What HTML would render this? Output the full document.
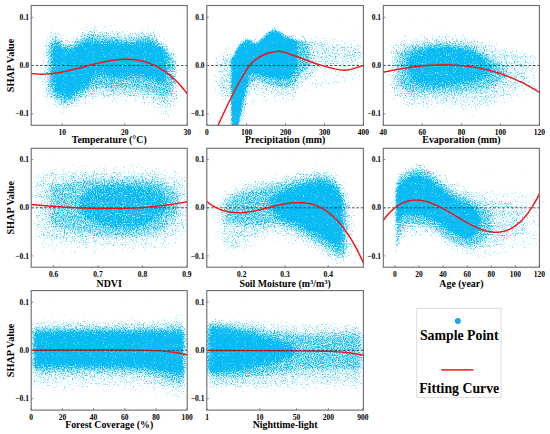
<!DOCTYPE html>
<html><head><meta charset="utf-8"><style>
html,body{margin:0;padding:0;background:#fff;overflow:hidden;}
svg{display:block;}
text{font-family:"Liberation Serif",serif;font-weight:bold;fill:#000;}
</style></head><body>
<svg width="550" height="434" viewBox="0 0 550 434">
<defs>
<filter id="sc0" x="0" y="0" width="1" height="1" color-interpolation-filters="sRGB">
<feGaussianBlur in="SourceGraphic" stdDeviation="2.0" result="b"/>
<feColorMatrix in="b" type="matrix" values="0 0 0 0 0  0 0 0 0 0  0 0 0 0 0  1 0 0 0 0" result="D"/>
<feTurbulence type="fractalNoise" baseFrequency="0.9" numOctaves="2" seed="7" result="T"/>
<feComposite in="D" in2="T" operator="arithmetic" k1="0" k2="1" k3="-1" k4="0.5" result="d"/>
<feComponentTransfer in="d" result="m"><feFuncA type="linear" slope="3" intercept="-1"/></feComponentTransfer>
<feFlood flood-color="#08bbf4"/>
<feComposite in2="m" operator="in"/>
<feGaussianBlur stdDeviation="0.45"/>
</filter>
<filter id="sc1" x="0" y="0" width="1" height="1" color-interpolation-filters="sRGB">
<feGaussianBlur in="SourceGraphic" stdDeviation="1.3" result="b"/>
<feColorMatrix in="b" type="matrix" values="0 0 0 0 0  0 0 0 0 0  0 0 0 0 0  1 0 0 0 0" result="D"/>
<feTurbulence type="fractalNoise" baseFrequency="0.9" numOctaves="2" seed="8" result="T"/>
<feComposite in="D" in2="T" operator="arithmetic" k1="0" k2="1" k3="-1" k4="0.5" result="d"/>
<feComponentTransfer in="d" result="m"><feFuncA type="linear" slope="3" intercept="-1"/></feComponentTransfer>
<feFlood flood-color="#08bbf4"/>
<feComposite in2="m" operator="in"/>
<feGaussianBlur stdDeviation="0.45"/>
</filter>
<filter id="sc2" x="0" y="0" width="1" height="1" color-interpolation-filters="sRGB">
<feGaussianBlur in="SourceGraphic" stdDeviation="2.4" result="b"/>
<feColorMatrix in="b" type="matrix" values="0 0 0 0 0  0 0 0 0 0  0 0 0 0 0  1 0 0 0 0" result="D"/>
<feTurbulence type="fractalNoise" baseFrequency="0.9" numOctaves="2" seed="9" result="T"/>
<feComposite in="D" in2="T" operator="arithmetic" k1="0" k2="1" k3="-1" k4="0.5" result="d"/>
<feComponentTransfer in="d" result="m"><feFuncA type="linear" slope="3" intercept="-1"/></feComponentTransfer>
<feFlood flood-color="#08bbf4"/>
<feComposite in2="m" operator="in"/>
<feGaussianBlur stdDeviation="0.45"/>
</filter>
<filter id="sc3" x="0" y="0" width="1" height="1" color-interpolation-filters="sRGB">
<feGaussianBlur in="SourceGraphic" stdDeviation="2.2" result="b"/>
<feColorMatrix in="b" type="matrix" values="0 0 0 0 0  0 0 0 0 0  0 0 0 0 0  1 0 0 0 0" result="D"/>
<feTurbulence type="fractalNoise" baseFrequency="0.9" numOctaves="2" seed="10" result="T"/>
<feComposite in="D" in2="T" operator="arithmetic" k1="0" k2="1" k3="-1" k4="0.5" result="d"/>
<feComponentTransfer in="d" result="m"><feFuncA type="linear" slope="3" intercept="-1"/></feComponentTransfer>
<feFlood flood-color="#08bbf4"/>
<feComposite in2="m" operator="in"/>
<feGaussianBlur stdDeviation="0.45"/>
</filter>
<filter id="sc4" x="0" y="0" width="1" height="1" color-interpolation-filters="sRGB">
<feGaussianBlur in="SourceGraphic" stdDeviation="2.5" result="b"/>
<feColorMatrix in="b" type="matrix" values="0 0 0 0 0  0 0 0 0 0  0 0 0 0 0  1 0 0 0 0" result="D"/>
<feTurbulence type="fractalNoise" baseFrequency="0.9" numOctaves="2" seed="11" result="T"/>
<feComposite in="D" in2="T" operator="arithmetic" k1="0" k2="1" k3="-1" k4="0.5" result="d"/>
<feComponentTransfer in="d" result="m"><feFuncA type="linear" slope="3" intercept="-1"/></feComponentTransfer>
<feFlood flood-color="#08bbf4"/>
<feComposite in2="m" operator="in"/>
<feGaussianBlur stdDeviation="0.45"/>
</filter>
<filter id="sc5" x="0" y="0" width="1" height="1" color-interpolation-filters="sRGB">
<feGaussianBlur in="SourceGraphic" stdDeviation="1.8" result="b"/>
<feColorMatrix in="b" type="matrix" values="0 0 0 0 0  0 0 0 0 0  0 0 0 0 0  1 0 0 0 0" result="D"/>
<feTurbulence type="fractalNoise" baseFrequency="0.9" numOctaves="2" seed="12" result="T"/>
<feComposite in="D" in2="T" operator="arithmetic" k1="0" k2="1" k3="-1" k4="0.5" result="d"/>
<feComponentTransfer in="d" result="m"><feFuncA type="linear" slope="3" intercept="-1"/></feComponentTransfer>
<feFlood flood-color="#08bbf4"/>
<feComposite in2="m" operator="in"/>
<feGaussianBlur stdDeviation="0.45"/>
</filter>
<filter id="sc6" x="0" y="0" width="1" height="1" color-interpolation-filters="sRGB">
<feGaussianBlur in="SourceGraphic" stdDeviation="2.0" result="b"/>
<feColorMatrix in="b" type="matrix" values="0 0 0 0 0  0 0 0 0 0  0 0 0 0 0  1 0 0 0 0" result="D"/>
<feTurbulence type="fractalNoise" baseFrequency="0.9" numOctaves="2" seed="13" result="T"/>
<feComposite in="D" in2="T" operator="arithmetic" k1="0" k2="1" k3="-1" k4="0.5" result="d"/>
<feComponentTransfer in="d" result="m"><feFuncA type="linear" slope="3" intercept="-1"/></feComponentTransfer>
<feFlood flood-color="#08bbf4"/>
<feComposite in2="m" operator="in"/>
<feGaussianBlur stdDeviation="0.45"/>
</filter>
<filter id="sc7" x="0" y="0" width="1" height="1" color-interpolation-filters="sRGB">
<feGaussianBlur in="SourceGraphic" stdDeviation="2.0" result="b"/>
<feColorMatrix in="b" type="matrix" values="0 0 0 0 0  0 0 0 0 0  0 0 0 0 0  1 0 0 0 0" result="D"/>
<feTurbulence type="fractalNoise" baseFrequency="0.9" numOctaves="2" seed="14" result="T"/>
<feComposite in="D" in2="T" operator="arithmetic" k1="0" k2="1" k3="-1" k4="0.5" result="d"/>
<feComponentTransfer in="d" result="m"><feFuncA type="linear" slope="3" intercept="-1"/></feComponentTransfer>
<feFlood flood-color="#08bbf4"/>
<feComposite in2="m" operator="in"/>
<feGaussianBlur stdDeviation="0.45"/>
</filter>

</defs>
<rect width="550" height="434" fill="#fff"/>

<clipPath id="cp0"><rect x="31.2" y="5.5" width="156" height="119.8"/></clipPath><g clip-path="url(#cp0)">
<g filter="url(#sc0)"><rect x="31.2" y="5.5" width="156" height="119.8" fill="#000"/><path d="M40 55C40.8 52.2 43.5 42.2 45 38C46.5 33.8 47.8 31.5 49 30C50.2 28.5 51 29.2 52 29C53 28.8 53.8 28.7 55 29C56.2 29.3 57.3 29.8 59 31C60.7 32.2 63 35.2 65 36C67 36.8 69.2 36.7 71 36C72.8 35.3 74.2 33.3 76 32C77.8 30.7 80 29.2 82 28C84 26.8 86.2 25.7 88 25C89.8 24.3 91 24.2 93 24C95 23.8 97.5 23.8 100 24C102.5 24.2 105.3 24.7 108 25C110.7 25.3 113.2 25.5 116 26C118.8 26.5 122 27.7 125 28C128 28.3 131.2 28.3 134 28C136.8 27.7 139.3 26.3 142 26C144.7 25.7 147.7 25.7 150 26C152.3 26.3 154.2 27 156 28C157.8 29 159.3 30.7 161 32C162.7 33.3 164.5 34.3 166 36C167.5 37.7 168.7 40 170 42C171.3 44 172.8 46 174 48C175.2 50 176 52 177 54C178 56 179.5 59 180 60L180 100C179.5 102 178 109 177 112C176 115 175.2 116.7 174 118C172.8 119.3 171.3 119.7 170 120C168.7 120.3 167.5 120.5 166 120C164.5 119.5 162.7 118.3 161 117C159.3 115.7 157.8 113.5 156 112C154.2 110.5 152.3 109 150 108C147.7 107 144.7 106.7 142 106C139.3 105.3 136.8 104.3 134 104C131.2 103.7 128 104 125 104C122 104 118.8 104 116 104C113.2 104 110.7 104 108 104C105.3 104 102.5 104 100 104C97.5 104 95 103.7 93 104C91 104.3 89.8 105.3 88 106C86.2 106.7 84 107.3 82 108C80 108.7 77.8 109.2 76 110C74.2 110.8 72.8 112.3 71 113C69.2 113.7 67 114 65 114C63 114 60.7 113.7 59 113C57.3 112.3 56.2 111.2 55 110C53.8 108.8 53 106.7 52 106C51 105.3 50.2 107 49 106C47.8 105 46.5 103.5 45 100C43.5 96.5 40.8 87.5 40 85Z" fill="#383838"/><path d="M45 48C45.7 46 47.8 38.3 49 36C50.2 33.7 51 34.5 52 34C53 33.5 53.8 32.7 55 33C56.2 33.3 57.3 34.5 59 36C60.7 37.5 63 41 65 42C67 43 69.2 42.7 71 42C72.8 41.3 74.2 39.3 76 38C77.8 36.7 80 35.2 82 34C84 32.8 86.2 31.7 88 31C89.8 30.3 91 30 93 30C95 30 97.5 30.7 100 31C102.5 31.3 105.3 31.8 108 32C110.7 32.2 113.2 31.7 116 32C118.8 32.3 122 33.7 125 34C128 34.3 131.2 34.3 134 34C136.8 33.7 139.3 32.3 142 32C144.7 31.7 147.7 31.5 150 32C152.3 32.5 154.2 33.7 156 35C157.8 36.3 159.3 38.5 161 40C162.7 41.5 164.5 42.3 166 44C167.5 45.7 168.7 48.2 170 50C171.3 51.8 172.8 53 174 55C175.2 57 176.5 60.8 177 62L177 96C176.5 97.3 175.2 102 174 104C172.8 106 171.3 107 170 108C168.7 109 167.5 110 166 110C164.5 110 162.7 109 161 108C159.3 107 157.8 105.3 156 104C154.2 102.7 152.3 101 150 100C147.7 99 144.7 98.5 142 98C139.3 97.5 136.8 97.2 134 97C131.2 96.8 128 97 125 97C122 97 118.8 97 116 97C113.2 97 110.7 97.2 108 97C105.3 96.8 102.5 96.2 100 96C97.5 95.8 95 95.7 93 96C91 96.3 89.8 97.2 88 98C86.2 98.8 84 100 82 101C80 102 77.8 103 76 104C74.2 105 72.8 106.3 71 107C69.2 107.7 67 108 65 108C63 108 60.7 107.7 59 107C57.3 106.3 56.2 105.2 55 104C53.8 102.8 53 100.7 52 100C51 99.3 50.2 101.3 49 100C47.8 98.7 45.7 93.3 45 92Z" fill="#585858"/><path d="M49 44C49.5 43.3 51 41.2 52 40C53 38.8 53.8 37 55 37C56.2 37 57.3 38.5 59 40C60.7 41.5 63 45 65 46C67 47 69.2 46.7 71 46C72.8 45.3 74.2 43.3 76 42C77.8 40.7 80 39.2 82 38C84 36.8 86.2 35.5 88 35C89.8 34.5 91 34.8 93 35C95 35.2 97.5 35.7 100 36C102.5 36.3 105.3 36.7 108 37C110.7 37.3 113.2 37.7 116 38C118.8 38.3 122 38.8 125 39C128 39.2 131.2 39.3 134 39C136.8 38.7 139.3 37.3 142 37C144.7 36.7 147.7 36.5 150 37C152.3 37.5 154.2 38.7 156 40C157.8 41.3 159.3 43.5 161 45C162.7 46.5 164.5 47.5 166 49C167.5 50.5 168.7 52.2 170 54C171.3 55.8 173.3 59 174 60L174 88C173.3 89 171.3 92.3 170 94C168.7 95.7 167.5 97.3 166 98C164.5 98.7 162.7 98.7 161 98C159.3 97.3 157.8 95 156 94C154.2 93 152.3 92.7 150 92C147.7 91.3 144.7 90.5 142 90C139.3 89.5 136.8 89.2 134 89C131.2 88.8 128 89 125 89C122 89 118.8 89 116 89C113.2 89 110.7 89.2 108 89C105.3 88.8 102.5 88.2 100 88C97.5 87.8 95 87.5 93 88C91 88.5 89.8 89.8 88 91C86.2 92.2 84 93.8 82 95C80 96.2 77.8 96.8 76 98C74.2 99.2 72.8 101.2 71 102C69.2 102.8 67 103.2 65 103C63 102.8 60.7 102 59 101C57.3 100 56.2 98.2 55 97C53.8 95.8 53 94.8 52 94C51 93.2 49.5 92.3 49 92Z" fill="#888888"/><path d="M52 52C52.5 50.8 53.8 46.2 55 45C56.2 43.8 57.3 44.2 59 45C60.7 45.8 63 49.2 65 50C67 50.8 69.2 50.7 71 50C72.8 49.3 74.2 47 76 46C77.8 45 80 44.7 82 44C84 43.3 86.2 42.3 88 42C89.8 41.7 91 41.8 93 42C95 42.2 97.5 42.8 100 43C102.5 43.2 105.3 43.2 108 43C110.7 42.8 113.2 41.8 116 42C118.8 42.2 122 43.7 125 44C128 44.3 131.2 44.3 134 44C136.8 43.7 139.3 42.3 142 42C144.7 41.7 147.7 41.5 150 42C152.3 42.5 154.2 44 156 45C157.8 46 159.3 46.8 161 48C162.7 49.2 165.2 51.3 166 52L166 80C165.2 80.3 162.7 82 161 82C159.3 82 157.8 80.7 156 80C154.2 79.3 152.3 78.7 150 78C147.7 77.3 144.7 76.3 142 76C139.3 75.7 136.8 75.8 134 76C131.2 76.2 128 76.8 125 77C122 77.2 118.8 77.2 116 77C113.2 76.8 110.7 76.2 108 76C105.3 75.8 102.5 75.7 100 76C97.5 76.3 95 76.5 93 78C91 79.5 89.8 83.2 88 85C86.2 86.8 84 87.8 82 89C80 90.2 77.8 90.8 76 92C74.2 93.2 72.8 95.2 71 96C69.2 96.8 67 97.3 65 97C63 96.7 60.7 95.3 59 94C57.3 92.7 56.2 91.3 55 89C53.8 86.7 52.5 81.5 52 80Z" fill="#cccccc"/></g>
<line x1="31.2" y1="65.5" x2="187.2" y2="65.5" stroke="#333" stroke-width="0.85" stroke-dasharray="2.6 1.8"/>
<path d="M30.2 73.3 31.2 73.4 32.2 73.6 33.2 73.7 34.2 73.8 35.2 73.9 36.2 74 37.2 74 38.2 74.1 39.2 74.1 40.2 74.2 41.2 74.2 42.2 74.2 43.2 74.2 44.2 74.1 45.2 74.1 46.2 74.1 47.2 74 48.2 73.9 49.2 73.8 50.2 73.8 51.2 73.7 52.2 73.5 53.2 73.4 54.2 73.3 55.2 73.2 56.2 73 57.2 72.9 58.2 72.7 59.2 72.5 60.2 72.4 61.2 72.2 62.2 72 63.2 71.8 64.2 71.6 65.2 71.4 66.2 71.2 67.2 70.9 68.2 70.7 69.2 70.5 70.2 70.2 71.2 70 72.2 69.8 73.2 69.5 74.2 69.3 75.2 69 76.2 68.8 77.2 68.5 78.2 68.3 79.2 68 80.2 67.7 81.2 67.5 82.2 67.2 83.2 66.9 84.2 66.7 85.2 66.4 86.2 66.2 87.2 65.9 88.2 65.6 89.2 65.4 90.2 65.1 91.2 64.8 92.2 64.6 93.2 64.3 94.2 64.1 95.2 63.8 96.2 63.6 97.2 63.4 98.2 63.1 99.2 62.9 100.2 62.7 101.2 62.4 102.2 62.2 103.2 62 104.2 61.8 105.2 61.6 106.2 61.4 107.2 61.2 108.2 61 109.2 60.9 110.2 60.7 111.2 60.5 112.2 60.4 113.2 60.2 114.2 60.1 115.2 60 116.2 59.9 117.2 59.8 118.2 59.7 119.2 59.6 120.2 59.5 121.2 59.4 122.2 59.4 123.2 59.3 124.2 59.3 125.2 59.3 126.2 59.3 127.2 59.3 128.2 59.3 129.2 59.3 130.2 59.4 131.2 59.4 132.2 59.5 133.2 59.6 134.2 59.7 135.2 59.8 136.2 60 137.2 60.1 138.2 60.3 139.2 60.4 140.2 60.6 141.2 60.9 142.2 61.1 143.2 61.3 144.2 61.6 145.2 61.9 146.2 62.2 147.2 62.5 148.2 62.8 149.2 63.2 150.2 63.6 151.2 63.9 152.2 64.4 153.2 64.8 154.2 65.2 155.2 65.7 156.2 66.2 157.2 66.7 158.2 67.3 159.2 67.8 160.2 68.4 161.2 69 162.2 69.7 163.2 70.3 164.2 71 165.2 71.7 166.2 72.4 167.2 73.2 168.2 73.9 169.2 74.7 170.2 75.5 171.2 76.4 172.2 77.3 173.2 78.2 174.2 79.1 175.2 80 176.2 81 177.2 82 178.2 83.1 179.2 84.1 180.2 85.2 181.2 86.3 182.2 87.5 183.2 88.7 184.2 89.9 185.2 91.1 186.2 92.4 187.2 93.7 188.2 95" fill="none" stroke="#f51010" stroke-width="1.45"/>
</g>
<rect x="31.2" y="5.5" width="156" height="119.8" fill="none" stroke="#6b6b6b" stroke-width="1.1"/>
<line x1="31.2" y1="113.8" x2="33.2" y2="113.8" stroke="#6b6b6b" stroke-width="0.8"/>
<text x="28.9" y="116.3" font-size="7.5" text-anchor="end">−0.1</text>
<line x1="31.2" y1="65.5" x2="33.2" y2="65.5" stroke="#6b6b6b" stroke-width="0.8"/>
<text x="28.9" y="68.1" font-size="7.5" text-anchor="end">0.0</text>
<line x1="31.2" y1="17.3" x2="33.2" y2="17.3" stroke="#6b6b6b" stroke-width="0.8"/>
<text x="28.9" y="19.9" font-size="7.5" text-anchor="end">0.1</text>
<line x1="62.3" y1="125.3" x2="62.3" y2="123.3" stroke="#6b6b6b" stroke-width="0.8"/>
<text x="62.3" y="134.8" font-size="7.5" text-anchor="middle">10</text>
<line x1="124.7" y1="125.3" x2="124.7" y2="123.3" stroke="#6b6b6b" stroke-width="0.8"/>
<text x="124.7" y="134.8" font-size="7.5" text-anchor="middle">20</text>
<line x1="187.2" y1="125.3" x2="187.2" y2="123.3" stroke="#6b6b6b" stroke-width="0.8"/>
<text x="187.2" y="134.8" font-size="7.5" text-anchor="middle">30</text>
<text x="109.2" y="142.6" font-size="9.9" text-anchor="middle">Temperature (°C)</text>
<clipPath id="cp1"><rect x="206.8" y="5.5" width="156.6" height="119.8"/></clipPath><g clip-path="url(#cp1)">
<g filter="url(#sc1)"><rect x="206.8" y="5.5" width="156.6" height="119.8" fill="#000"/><path d="M214 55C214.8 54.2 217.3 51.2 219 50C220.7 48.8 222.3 48.7 224 48C225.7 47.3 227.8 45.3 229 46C230.2 46.7 230.7 51.3 231.5 52C232.3 52.7 233.1 51.5 234 50C234.9 48.5 236 44.8 237 43C238 41.2 239 40.2 240 39C241 37.8 242 36.7 243 36C244 35.3 245 35.3 246 35C247 34.7 247.5 33.5 249 34C250.5 34.5 252.8 38.2 255 38C257.2 37.8 259.5 35 262 33C264.5 31 267.5 27.3 270 26C272.5 24.7 274.7 24.3 277 25C279.3 25.7 281.7 28.7 284 30C286.3 31.3 288.8 32.2 291 33C293.2 33.8 295 35 297 35C299 35 300.8 33 303 33C305.2 33 307.5 34.5 310 35C312.5 35.5 315.3 35.7 318 36C320.7 36.3 322.3 36.7 326 37C329.7 37.3 334 37.8 340 38C346 38.2 358.3 38 362 38L362 82C358.3 82.3 346 83.3 340 84C334 84.7 329.7 85 326 86C322.3 87 320.7 89 318 90C315.3 91 312.5 91 310 92C307.5 93 305.2 94.7 303 96C300.8 97.3 299 98.7 297 100C295 101.3 293.2 103.3 291 104C288.8 104.7 286.3 104 284 104C281.7 104 279.3 104.2 277 104C274.7 103.8 272.5 103.3 270 103C267.5 102.7 264.5 101.8 262 102C259.5 102.2 257.2 103 255 104C252.8 105 250.5 106 249 108C247.5 110 247 113.3 246 116C245 118.7 244 122.3 243 124C242 125.7 241 125.7 240 126C239 126.3 238 126 237 126C236 126 234.9 126 234 126C233.1 126 232.3 129.7 231.5 126C230.7 122.3 230.2 108 229 104C227.8 100 225.7 102.7 224 102C222.3 101.3 220.7 101.2 219 100C217.3 98.8 214.8 95.8 214 95Z" fill="#383838"/><path d="M219 60C219.8 59.3 222.3 57 224 56C225.7 55 227.8 54.2 229 54C230.2 53.8 230.7 55.2 231.5 55C232.3 54.8 233.1 54.5 234 53C234.9 51.5 236 47.8 237 46C238 44.2 239 43.2 240 42C241 40.8 242 39.7 243 39C244 38.3 245 38.3 246 38C247 37.7 247.5 36.5 249 37C250.5 37.5 252.8 41.2 255 41C257.2 40.8 259.5 38 262 36C264.5 34 267.5 30.3 270 29C272.5 27.7 274.7 27.3 277 28C279.3 28.7 281.7 31.7 284 33C286.3 34.3 288.8 35.2 291 36C293.2 36.8 295 38 297 38C299 38 300.8 35.8 303 36C305.2 36.2 307.5 38.2 310 39C312.5 39.8 315.3 40.2 318 41C320.7 41.8 322.3 43.3 326 44C329.7 44.7 334 44.7 340 45C346 45.3 358.3 45.8 362 46L362 62C358.3 62.3 346 63.3 340 64C334 64.7 329.7 65 326 66C322.3 67 320.7 68.3 318 70C315.3 71.7 312.5 73.7 310 76C307.5 78.3 305.2 81.7 303 84C300.8 86.3 299 88.3 297 90C295 91.7 293.2 93.2 291 94C288.8 94.8 286.3 95 284 95C281.7 95 279.3 94.5 277 94C274.7 93.5 272.5 92.7 270 92C267.5 91.3 264.5 90.3 262 90C259.5 89.7 257.2 89 255 90C252.8 91 250.5 93.3 249 96C247.5 98.7 247 102.3 246 106C245 109.7 244 115 243 118C242 121 241 122.7 240 124C239 125.3 238 125.7 237 126C236 126.3 234.9 126 234 126C233.1 126 232.3 130.3 231.5 126C230.7 121.7 230.2 105 229 100C227.8 95 225.7 97.7 224 96C222.3 94.3 219.8 91 219 90Z" fill="#585858"/><path d="M231.5 57C231.9 56.7 233.1 56.5 234 55C234.9 53.5 236 49.8 237 48C238 46.2 239 45.2 240 44C241 42.8 242 41.7 243 41C244 40.3 245 40.3 246 40C247 39.7 247.5 38.5 249 39C250.5 39.5 252.8 43.2 255 43C257.2 42.8 259.5 40 262 38C264.5 36 267.5 32.3 270 31C272.5 29.7 274.7 29.3 277 30C279.3 30.7 281.7 33.7 284 35C286.3 36.3 288.8 37.2 291 38C293.2 38.8 295 39.5 297 40C299 40.5 300.8 40 303 41C305.2 42 308.8 45.2 310 46L310 66C308.8 67 305.2 69.7 303 72C300.8 74.3 299 77.7 297 80C295 82.3 293.2 84.7 291 86C288.8 87.3 286.3 88 284 88C281.7 88 279.3 86.7 277 86C274.7 85.3 272.5 84.7 270 84C267.5 83.3 264.5 82.7 262 82C259.5 81.3 257.2 79.3 255 80C252.8 80.7 250.5 83.3 249 86C247.5 88.7 247 92.3 246 96C245 99.7 244 104 243 108C242 112 241 117 240 120C239 123 238 125 237 126C236 127 234.9 126 234 126C233.1 126 231.9 126 231.5 126Z" fill="#8c8c8c"/><path d="M231.5 59C231.9 58.7 233.1 58.5 234 57C234.9 55.5 236 51.8 237 50C238 48.2 239 47.2 240 46C241 44.8 242 43.7 243 43C244 42.3 245 42.3 246 42C247 41.7 247.5 40.5 249 41C250.5 41.5 252.8 45.2 255 45C257.2 44.8 259.5 42 262 40C264.5 38 267.5 34.3 270 33C272.5 31.7 274.7 31.3 277 32C279.3 32.7 281.7 35.7 284 37C286.3 38.3 288.8 39.2 291 40C293.2 40.8 296 41.7 297 42L297 66C296 67.7 293.2 74 291 76C288.8 78 286.3 77.7 284 78C281.7 78.3 279.3 78.2 277 78C274.7 77.8 272.5 77.5 270 77C267.5 76.5 264.5 75.7 262 75C259.5 74.3 257.2 73 255 73C252.8 73 250.5 72.8 249 75C247.5 77.2 247 82.2 246 86C245 89.8 244 93.7 243 98C242 102.3 241 107.3 240 112C239 116.7 238 123.7 237 126C236 128.3 234.9 126 234 126C233.1 126 231.9 126 231.5 126Z" fill="#d8d8d8"/></g>
<line x1="206.8" y1="65.5" x2="363.4" y2="65.5" stroke="#333" stroke-width="0.85" stroke-dasharray="2.6 1.8"/>
<path d="M218.1 125.1C220.3 120.5 227.3 105.3 231.2 97.5C235.1 89.7 238.1 84.1 241.4 78.5C244.7 72.9 247.2 67.9 250.8 64C254.4 60.1 259.2 57 263.2 55C267.2 53 271.2 52.1 274.8 51.7C278.4 51.3 277.7 50.4 285 52.5C292.3 54.6 308.7 61.4 318.5 64.4C328.3 67.4 336.5 70.1 344 70.3C351.5 70.5 360.2 66.2 363.5 65.4" fill="none" stroke="#f51010" stroke-width="1.45"/>
</g>
<rect x="206.8" y="5.5" width="156.6" height="119.8" fill="none" stroke="#6b6b6b" stroke-width="1.1"/>
<line x1="206.8" y1="113.8" x2="208.8" y2="113.8" stroke="#6b6b6b" stroke-width="0.8"/>
<text x="204.5" y="116.3" font-size="7.5" text-anchor="end">−0.1</text>
<line x1="206.8" y1="65.5" x2="208.8" y2="65.5" stroke="#6b6b6b" stroke-width="0.8"/>
<text x="204.5" y="68.1" font-size="7.5" text-anchor="end">0.0</text>
<line x1="206.8" y1="17.3" x2="208.8" y2="17.3" stroke="#6b6b6b" stroke-width="0.8"/>
<text x="204.5" y="19.9" font-size="7.5" text-anchor="end">0.1</text>
<line x1="206.8" y1="125.3" x2="206.8" y2="123.3" stroke="#6b6b6b" stroke-width="0.8"/>
<text x="206.8" y="134.8" font-size="7.5" text-anchor="middle">0</text>
<line x1="246.5" y1="125.3" x2="246.5" y2="123.3" stroke="#6b6b6b" stroke-width="0.8"/>
<text x="246.5" y="134.8" font-size="7.5" text-anchor="middle">100</text>
<line x1="285.5" y1="125.3" x2="285.5" y2="123.3" stroke="#6b6b6b" stroke-width="0.8"/>
<text x="285.5" y="134.8" font-size="7.5" text-anchor="middle">200</text>
<line x1="324.5" y1="125.3" x2="324.5" y2="123.3" stroke="#6b6b6b" stroke-width="0.8"/>
<text x="324.5" y="134.8" font-size="7.5" text-anchor="middle">300</text>
<line x1="363.4" y1="125.3" x2="363.4" y2="123.3" stroke="#6b6b6b" stroke-width="0.8"/>
<text x="363.4" y="134.8" font-size="7.5" text-anchor="middle">400</text>
<text x="285.1" y="142.6" font-size="9.9" text-anchor="middle">Precipitation (mm)</text>
<clipPath id="cp2"><rect x="383.3" y="5.5" width="156.1" height="119.8"/></clipPath><g clip-path="url(#cp2)">
<g filter="url(#sc2)"><rect x="383.3" y="5.5" width="156.1" height="119.8" fill="#000"/><path d="M386 49C387 47.8 390 43.7 392 42C394 40.3 396 39.8 398 39C400 38.2 402.3 37.5 404 37C405.7 36.5 406.7 36.2 408 36C409.3 35.8 410.3 36.2 412 36C413.7 35.8 415.7 35.3 418 35C420.3 34.7 423 34.3 426 34C429 33.7 432.3 33.2 436 33C439.7 32.8 444 32.8 448 33C452 33.2 456.3 33.7 460 34C463.7 34.3 467 34.5 470 35C473 35.5 475.5 36.3 478 37C480.5 37.7 483 38.3 485 39C487 39.7 488.7 40.5 490 41C491.3 41.5 491.7 41.7 493 42C494.3 42.3 496.3 42.5 498 43C499.7 43.5 501.7 44.5 503 45C504.3 45.5 504.5 45.7 506 46C507.5 46.3 509.7 46.5 512 47C514.3 47.5 517 48.5 520 49C523 49.5 527 49.5 530 50C533 50.5 536.7 51.7 538 52L538 92C536.7 92.7 533 94.7 530 96C527 97.3 523 98.7 520 100C517 101.3 514.3 103.2 512 104C509.7 104.8 507.5 104.7 506 105C504.5 105.3 504.3 105.3 503 106C501.7 106.7 499.7 108.2 498 109C496.3 109.8 494.3 110.5 493 111C491.7 111.5 491.3 111.5 490 112C488.7 112.5 487 113.7 485 114C483 114.3 480.5 114.2 478 114C475.5 113.8 473 113.3 470 113C467 112.7 463.7 112.2 460 112C456.3 111.8 452 112 448 112C444 112 439.7 112 436 112C432.3 112 429 112.2 426 112C423 111.8 420.3 111.3 418 111C415.7 110.7 413.7 110.2 412 110C410.3 109.8 409.3 110.3 408 110C406.7 109.7 405.7 108.7 404 108C402.3 107.3 400 107.2 398 106C396 104.8 394 103.5 392 101C390 98.5 387 92.7 386 91Z" fill="#383838"/><path d="M392 48C393 47.2 396 44.2 398 43C400 41.8 402.3 41.5 404 41C405.7 40.5 406.7 40.2 408 40C409.3 39.8 410.3 40.2 412 40C413.7 39.8 415.7 39.3 418 39C420.3 38.7 423 38.3 426 38C429 37.7 432.3 37.2 436 37C439.7 36.8 444 36.8 448 37C452 37.2 456.3 37.5 460 38C463.7 38.5 467 39.3 470 40C473 40.7 475.5 41.5 478 42C480.5 42.5 483 42.5 485 43C487 43.5 488.7 44.5 490 45C491.3 45.5 491.7 45.7 493 46C494.3 46.3 496.3 46.5 498 47C499.7 47.5 501.7 48.5 503 49C504.3 49.5 504.5 49.7 506 50C507.5 50.3 509.7 50.5 512 51C514.3 51.5 517 52 520 53C523 54 528.3 56.3 530 57L530 83C528.3 84 523 87.3 520 89C517 90.7 514.3 92 512 93C509.7 94 507.5 94.3 506 95C504.5 95.7 504.3 96.2 503 97C501.7 97.8 499.7 99.2 498 100C496.3 100.8 494.3 101.5 493 102C491.7 102.5 491.3 102.5 490 103C488.7 103.5 487 104.7 485 105C483 105.3 480.5 105.2 478 105C475.5 104.8 473 104.3 470 104C467 103.7 463.7 103.2 460 103C456.3 102.8 452 103 448 103C444 103 439.7 103 436 103C432.3 103 429 103 426 103C423 103 420.3 103 418 103C415.7 103 413.7 103 412 103C410.3 103 409.3 103.3 408 103C406.7 102.7 405.7 102 404 101C402.3 100 400 98.5 398 97C396 95.5 393 92.8 392 92Z" fill="#585858"/><path d="M398 56C399 55 402.3 51.3 404 50C405.7 48.7 406.7 48.5 408 48C409.3 47.5 410.3 47.3 412 47C413.7 46.7 415.7 46.3 418 46C420.3 45.7 423 45.3 426 45C429 44.7 432.3 44.2 436 44C439.7 43.8 444 43.8 448 44C452 44.2 456.3 44.5 460 45C463.7 45.5 467 46.2 470 47C473 47.8 475.5 48.8 478 50C480.5 51.2 483 52.7 485 54C487 55.3 488.7 57 490 58C491.3 59 491.7 59.2 493 60C494.3 60.8 496.3 61.7 498 63C499.7 64.3 501.7 67 503 68C504.3 69 505.5 68.8 506 69L506 77C505.5 77.2 504.3 77 503 78C501.7 79 499.7 81.7 498 83C496.3 84.3 494.3 85.2 493 86C491.7 86.8 491.3 87.5 490 88C488.7 88.5 487 88.7 485 89C483 89.3 480.5 89.7 478 90C475.5 90.3 473 90.7 470 91C467 91.3 463.7 91.7 460 92C456.3 92.3 452 92.8 448 93C444 93.2 439.7 93 436 93C432.3 93 429 93 426 93C423 93 420.3 93 418 93C415.7 93 413.7 93.2 412 93C410.3 92.8 409.3 92.5 408 92C406.7 91.5 405.7 91.3 404 90C402.3 88.7 399 85 398 84Z" fill="#888888"/><path d="M408 62C408.7 60.7 410.3 55.8 412 54C413.7 52.2 415.7 51.8 418 51C420.3 50.2 423 49.7 426 49C429 48.3 432.3 47.3 436 47C439.7 46.7 444 46.8 448 47C452 47.2 456.3 47.5 460 48C463.7 48.5 467 49 470 50C473 51 475.5 52.5 478 54C480.5 55.5 483 57 485 59C487 61 488.7 64.3 490 66C491.3 67.7 492.5 68.5 493 69L493 71C492.5 71.3 491.3 72 490 73C488.7 74 487 76 485 77C483 78 480.5 78.3 478 79C475.5 79.7 473 80.3 470 81C467 81.7 463.7 82.3 460 83C456.3 83.7 452 84.5 448 85C444 85.5 439.7 86 436 86C432.3 86 429 85.5 426 85C423 84.5 420.3 84 418 83C415.7 82 413.7 81 412 79C410.3 77 408.7 72.3 408 71Z" fill="#c0c0c0"/></g>
<line x1="383.3" y1="65.5" x2="539.4" y2="65.5" stroke="#333" stroke-width="0.85" stroke-dasharray="2.6 1.8"/>
<path d="M382.3 72.5 383.3 72.2 384.3 72 385.3 71.8 386.3 71.6 387.3 71.4 388.3 71.2 389.3 71 390.3 70.8 391.3 70.6 392.3 70.4 393.3 70.2 394.3 70 395.3 69.8 396.3 69.6 397.3 69.4 398.3 69.2 399.3 69.1 400.3 68.9 401.3 68.7 402.3 68.5 403.3 68.4 404.3 68.2 405.3 68.1 406.3 67.9 407.3 67.7 408.3 67.6 409.3 67.5 410.3 67.3 411.3 67.2 412.3 67 413.3 66.9 414.3 66.8 415.3 66.7 416.3 66.5 417.3 66.4 418.3 66.3 419.3 66.2 420.3 66.1 421.3 66 422.3 65.9 423.3 65.8 424.3 65.7 425.3 65.6 426.3 65.5 427.3 65.5 428.3 65.4 429.3 65.3 430.3 65.3 431.3 65.2 432.3 65.1 433.3 65.1 434.3 65.1 435.3 65 436.3 65 437.3 64.9 438.3 64.9 439.3 64.9 440.3 64.9 441.3 64.9 442.3 64.8 443.3 64.8 444.3 64.8 445.3 64.8 446.3 64.8 447.3 64.9 448.3 64.9 449.3 64.9 450.3 64.9 451.3 65 452.3 65 453.3 65.1 454.3 65.1 455.3 65.2 456.3 65.2 457.3 65.3 458.3 65.4 459.3 65.4 460.3 65.5 461.3 65.6 462.3 65.7 463.3 65.8 464.3 65.9 465.3 66 466.3 66.1 467.3 66.2 468.3 66.4 469.3 66.5 470.3 66.6 471.3 66.8 472.3 66.9 473.3 67.1 474.3 67.2 475.3 67.4 476.3 67.6 477.3 67.8 478.3 67.9 479.3 68.1 480.3 68.3 481.3 68.5 482.3 68.7 483.3 69 484.3 69.2 485.3 69.4 486.3 69.6 487.3 69.9 488.3 70.1 489.3 70.4 490.3 70.6 491.3 70.9 492.3 71.2 493.3 71.5 494.3 71.8 495.3 72.1 496.3 72.4 497.3 72.7 498.3 73 499.3 73.3 500.3 73.6 501.3 74 502.3 74.3 503.3 74.7 504.3 75 505.3 75.4 506.3 75.8 507.3 76.1 508.3 76.5 509.3 76.9 510.3 77.3 511.3 77.7 512.3 78.1 513.3 78.6 514.3 79 515.3 79.4 516.3 79.9 517.3 80.3 518.3 80.8 519.3 81.3 520.3 81.7 521.3 82.2 522.3 82.7 523.3 83.2 524.3 83.7 525.3 84.2 526.3 84.7 527.3 85.3 528.3 85.8 529.3 86.4 530.3 86.9 531.3 87.5 532.3 88.1 533.3 88.6 534.3 89.2 535.3 89.8 536.3 90.4 537.3 91 538.3 91.7 539.3 92.3 540.3 92.9" fill="none" stroke="#f51010" stroke-width="1.45"/>
</g>
<rect x="383.3" y="5.5" width="156.1" height="119.8" fill="none" stroke="#6b6b6b" stroke-width="1.1"/>
<line x1="383.3" y1="113.8" x2="385.3" y2="113.8" stroke="#6b6b6b" stroke-width="0.8"/>
<text x="381" y="116.3" font-size="7.5" text-anchor="end">−0.1</text>
<line x1="383.3" y1="65.5" x2="385.3" y2="65.5" stroke="#6b6b6b" stroke-width="0.8"/>
<text x="381" y="68.1" font-size="7.5" text-anchor="end">0.0</text>
<line x1="383.3" y1="17.3" x2="385.3" y2="17.3" stroke="#6b6b6b" stroke-width="0.8"/>
<text x="381" y="19.9" font-size="7.5" text-anchor="end">0.1</text>
<line x1="383.3" y1="125.3" x2="383.3" y2="123.3" stroke="#6b6b6b" stroke-width="0.8"/>
<text x="383.3" y="134.8" font-size="7.5" text-anchor="middle">40</text>
<line x1="422.3" y1="125.3" x2="422.3" y2="123.3" stroke="#6b6b6b" stroke-width="0.8"/>
<text x="422.3" y="134.8" font-size="7.5" text-anchor="middle">60</text>
<line x1="461.4" y1="125.3" x2="461.4" y2="123.3" stroke="#6b6b6b" stroke-width="0.8"/>
<text x="461.4" y="134.8" font-size="7.5" text-anchor="middle">80</text>
<line x1="500.4" y1="125.3" x2="500.4" y2="123.3" stroke="#6b6b6b" stroke-width="0.8"/>
<text x="500.4" y="134.8" font-size="7.5" text-anchor="middle">100</text>
<line x1="539.4" y1="125.3" x2="539.4" y2="123.3" stroke="#6b6b6b" stroke-width="0.8"/>
<text x="539.4" y="134.8" font-size="7.5" text-anchor="middle">120</text>
<text x="461.4" y="142.6" font-size="9.9" text-anchor="middle">Evaporation (mm)</text>
<clipPath id="cp3"><rect x="31.2" y="148.3" width="156" height="118.9"/></clipPath><g clip-path="url(#cp3)">
<g filter="url(#sc3)"><rect x="31.2" y="148.3" width="156" height="118.9" fill="#000"/><path d="M34 172C35.3 171.3 39.3 169 42 168C44.7 167 47.3 166.5 50 166C52.7 165.5 55 165.2 58 165C61 164.8 65.2 165 68 165C70.8 165 73 165 75 165C77 165 78.3 165.2 80 165C81.7 164.8 83 164.2 85 164C87 163.8 89.5 164 92 164C94.5 164 97 164 100 164C103 164 106.7 164 110 164C113.3 164 116.7 164 120 164C123.3 164 126.7 164 130 164C133.3 164 136.7 164 140 164C143.3 164 147 163.8 150 164C153 164.2 155.7 164.7 158 165C160.3 165.3 162.5 165.7 164 166C165.5 166.3 165.7 166.7 167 167C168.3 167.3 170.2 167.5 172 168C173.8 168.5 176.5 169.7 178 170C179.5 170.3 179.7 169.7 181 170C182.3 170.3 185.2 171.7 186 172L186 244C185.2 244.3 182.3 245.5 181 246C179.7 246.5 179.5 246.7 178 247C176.5 247.3 173.8 247.5 172 248C170.2 248.5 168.3 249.3 167 250C165.7 250.7 165.5 251.5 164 252C162.5 252.5 160.3 252.7 158 253C155.7 253.3 153 253.7 150 254C147 254.3 143.3 254.8 140 255C136.7 255.2 133.3 255 130 255C126.7 255 123.3 255 120 255C116.7 255 113.3 255 110 255C106.7 255 103 255 100 255C97 255 94.5 255 92 255C89.5 255 87 255 85 255C83 255 81.7 255 80 255C78.3 255 77 255 75 255C73 255 70.8 255.2 68 255C65.2 254.8 61 254.5 58 254C55 253.5 52.7 253 50 252C47.3 251 44.7 250 42 248C39.3 246 35.3 241.3 34 240Z" fill="#363636"/><path d="M34 180C35.3 179.3 39.3 177 42 176C44.7 175 47.3 174.5 50 174C52.7 173.5 55 173.3 58 173C61 172.7 65.2 172.2 68 172C70.8 171.8 73 172 75 172C77 172 78.3 172 80 172C81.7 172 83 172 85 172C87 172 89.5 172 92 172C94.5 172 97 172 100 172C103 172 106.7 172 110 172C113.3 172 116.7 172 120 172C123.3 172 126.7 172 130 172C133.3 172 136.7 172 140 172C143.3 172 147 171.8 150 172C153 172.2 155.7 172.7 158 173C160.3 173.3 162.5 173.7 164 174C165.5 174.3 165.7 174.5 167 175C168.3 175.5 170.2 176.3 172 177C173.8 177.7 176.5 178.5 178 179C179.5 179.5 179.7 179.2 181 180C182.3 180.8 185.2 183.3 186 184L186 226C185.2 227 182.3 230.8 181 232C179.7 233.2 179.5 232.3 178 233C176.5 233.7 173.8 235 172 236C170.2 237 168.3 238.2 167 239C165.7 239.8 165.5 240.5 164 241C162.5 241.5 160.3 241.7 158 242C155.7 242.3 153 242.7 150 243C147 243.3 143.3 243.8 140 244C136.7 244.2 133.3 244 130 244C126.7 244 123.3 244 120 244C116.7 244 113.3 244 110 244C106.7 244 103 244 100 244C97 244 94.5 244 92 244C89.5 244 87 244.2 85 244C83 243.8 81.7 243.2 80 243C78.3 242.8 77 243 75 243C73 243 70.8 243.2 68 243C65.2 242.8 61 242.5 58 242C55 241.5 52.7 241 50 240C47.3 239 44.7 238 42 236C39.3 234 35.3 229.3 34 228Z" fill="#565656"/><path d="M50 186C51.3 185.7 55 184.7 58 184C61 183.3 65.2 182.5 68 182C70.8 181.5 73 181.2 75 181C77 180.8 78.3 181.2 80 181C81.7 180.8 83 180.3 85 180C87 179.7 89.5 179.2 92 179C94.5 178.8 97 179 100 179C103 179 106.7 179 110 179C113.3 179 116.7 179 120 179C123.3 179 126.7 179 130 179C133.3 179 136.7 178.8 140 179C143.3 179.2 147 179.7 150 180C153 180.3 155.7 180.5 158 181C160.3 181.5 162.5 182.3 164 183C165.5 183.7 165.7 184.2 167 185C168.3 185.8 170.2 186.8 172 188C173.8 189.2 177 191.3 178 192L178 214C177 215 173.8 218 172 220C170.2 222 168.3 224.5 167 226C165.7 227.5 165.5 228 164 229C162.5 230 160.3 231.2 158 232C155.7 232.8 153 233.5 150 234C147 234.5 143.3 234.7 140 235C136.7 235.3 133.3 235.8 130 236C126.7 236.2 123.3 236 120 236C116.7 236 113.3 236.2 110 236C106.7 235.8 103 235.3 100 235C97 234.7 94.5 234.3 92 234C89.5 233.7 87 233.3 85 233C83 232.7 81.7 232.2 80 232C78.3 231.8 77 232.3 75 232C73 231.7 70.8 230.7 68 230C65.2 229.3 61 229 58 228C55 227 51.3 224.7 50 224Z" fill="#828282"/><path d="M80 200C80.8 198.8 83 194.8 85 193C87 191.2 89.5 190 92 189C94.5 188 97 187.5 100 187C103 186.5 106.7 186.2 110 186C113.3 185.8 116.7 186 120 186C123.3 186 126.7 185.8 130 186C133.3 186.2 136.7 186.7 140 187C143.3 187.3 147 187.5 150 188C153 188.5 155.7 188.8 158 190C160.3 191.2 162.5 193.3 164 195C165.5 196.7 166.5 199.2 167 200L167 208C166.5 208.8 165.5 211.3 164 213C162.5 214.7 160.3 216.5 158 218C155.7 219.5 153 220.7 150 222C147 223.3 143.3 225 140 226C136.7 227 133.3 227.7 130 228C126.7 228.3 123.3 228.2 120 228C116.7 227.8 113.3 227.7 110 227C106.7 226.3 103 225.2 100 224C97 222.8 94.5 221.3 92 220C89.5 218.7 87 217.3 85 216C83 214.7 80.8 212.7 80 212Z" fill="#b0b0b0"/></g>
<line x1="31.2" y1="207.8" x2="187.2" y2="207.8" stroke="#333" stroke-width="0.85" stroke-dasharray="2.6 1.8"/>
<path d="M30.2 204.5 31.2 204.5 32.2 204.6 33.2 204.7 34.2 204.8 35.2 204.9 36.2 205 37.2 205 38.2 205.1 39.2 205.2 40.2 205.3 41.2 205.4 42.2 205.5 43.2 205.5 44.2 205.6 45.2 205.7 46.2 205.8 47.2 205.8 48.2 205.9 49.2 206 50.2 206.1 51.2 206.1 52.2 206.2 53.2 206.3 54.2 206.4 55.2 206.4 56.2 206.5 57.2 206.6 58.2 206.6 59.2 206.7 60.2 206.8 61.2 206.8 62.2 206.9 63.2 207 64.2 207 65.2 207.1 66.2 207.2 67.2 207.2 68.2 207.3 69.2 207.3 70.2 207.4 71.2 207.4 72.2 207.5 73.2 207.5 74.2 207.6 75.2 207.6 76.2 207.7 77.2 207.7 78.2 207.8 79.2 207.8 80.2 207.9 81.2 207.9 82.2 208 83.2 208 84.2 208 85.2 208.1 86.2 208.1 87.2 208.2 88.2 208.2 89.2 208.2 90.2 208.3 91.2 208.3 92.2 208.3 93.2 208.3 94.2 208.4 95.2 208.4 96.2 208.4 97.2 208.4 98.2 208.4 99.2 208.5 100.2 208.5 101.2 208.5 102.2 208.5 103.2 208.5 104.2 208.5 105.2 208.5 106.2 208.5 107.2 208.5 108.2 208.5 109.2 208.5 110.2 208.5 111.2 208.5 112.2 208.5 113.2 208.5 114.2 208.5 115.2 208.5 116.2 208.5 117.2 208.5 118.2 208.5 119.2 208.4 120.2 208.4 121.2 208.4 122.2 208.4 123.2 208.4 124.2 208.3 125.2 208.3 126.2 208.3 127.2 208.2 128.2 208.2 129.2 208.1 130.2 208.1 131.2 208.1 132.2 208 133.2 208 134.2 207.9 135.2 207.9 136.2 207.8 137.2 207.8 138.2 207.7 139.2 207.6 140.2 207.6 141.2 207.5 142.2 207.4 143.2 207.4 144.2 207.3 145.2 207.2 146.2 207.2 147.2 207.1 148.2 207 149.2 206.9 150.2 206.8 151.2 206.7 152.2 206.6 153.2 206.5 154.2 206.4 155.2 206.3 156.2 206.2 157.2 206.1 158.2 206 159.2 205.9 160.2 205.8 161.2 205.7 162.2 205.6 163.2 205.4 164.2 205.3 165.2 205.2 166.2 205.1 167.2 204.9 168.2 204.8 169.2 204.7 170.2 204.5 171.2 204.4 172.2 204.2 173.2 204.1 174.2 203.9 175.2 203.8 176.2 203.6 177.2 203.5 178.2 203.3 179.2 203.1 180.2 203 181.2 202.8 182.2 202.6 183.2 202.4 184.2 202.3 185.2 202.1 186.2 201.9 187.2 201.7 188.2 201.5" fill="none" stroke="#f51010" stroke-width="1.45"/>
</g>
<rect x="31.2" y="148.3" width="156" height="118.9" fill="none" stroke="#6b6b6b" stroke-width="1.1"/>
<line x1="31.2" y1="255.9" x2="33.2" y2="255.9" stroke="#6b6b6b" stroke-width="0.8"/>
<text x="28.9" y="258.6" font-size="7.5" text-anchor="end">−0.1</text>
<line x1="31.2" y1="207.8" x2="33.2" y2="207.8" stroke="#6b6b6b" stroke-width="0.8"/>
<text x="28.9" y="210.3" font-size="7.5" text-anchor="end">0.0</text>
<line x1="31.2" y1="159.6" x2="33.2" y2="159.6" stroke="#6b6b6b" stroke-width="0.8"/>
<text x="28.9" y="162.2" font-size="7.5" text-anchor="end">0.1</text>
<line x1="53.6" y1="267.2" x2="53.6" y2="265.2" stroke="#6b6b6b" stroke-width="0.8"/>
<text x="53.6" y="276.7" font-size="7.5" text-anchor="middle">0.6</text>
<line x1="98" y1="267.2" x2="98" y2="265.2" stroke="#6b6b6b" stroke-width="0.8"/>
<text x="98" y="276.7" font-size="7.5" text-anchor="middle">0.7</text>
<line x1="142.5" y1="267.2" x2="142.5" y2="265.2" stroke="#6b6b6b" stroke-width="0.8"/>
<text x="142.5" y="276.7" font-size="7.5" text-anchor="middle">0.8</text>
<line x1="186.9" y1="267.2" x2="186.9" y2="265.2" stroke="#6b6b6b" stroke-width="0.8"/>
<text x="186.9" y="276.7" font-size="7.5" text-anchor="middle">0.9</text>
<text x="109.2" y="286.5" font-size="9.9" text-anchor="middle">NDVI</text>
<clipPath id="cp4"><rect x="206.8" y="148.3" width="156.6" height="118.9"/></clipPath><g clip-path="url(#cp4)">
<g filter="url(#sc4)"><rect x="206.8" y="148.3" width="156.6" height="118.9" fill="#000"/><path d="M214 198C215 197 218 193.7 220 192C222 190.3 223.8 189.3 226 188C228.2 186.7 230.5 185.2 233 184C235.5 182.8 238.3 181.8 241 181C243.7 180.2 246.3 179.7 249 179C251.7 178.3 254.2 177.7 257 177C259.8 176.3 263.8 175.5 266 175C268.2 174.5 268.3 174.3 270 174C271.7 173.7 274 173.3 276 173C278 172.7 279.3 172.5 282 172C284.7 171.5 288.7 170.7 292 170C295.3 169.3 298.7 168.7 302 168C305.3 167.3 308.7 166.5 312 166C315.3 165.5 319 164.8 322 165C325 165.2 327.5 166 330 167C332.5 168 335 169.5 337 171C339 172.5 340.5 174 342 176C343.5 178 344.7 180.3 346 183C347.3 185.7 348.3 189.2 350 192C351.7 194.8 355 198.7 356 200L356 245C355 247.5 351.7 256.8 350 260C348.3 263.2 347.3 263 346 264C344.7 265 343.5 265.7 342 266C340.5 266.3 339 266.5 337 266C335 265.5 332.5 264.5 330 263C327.5 261.5 325 259 322 257C319 255 315.3 252.7 312 251C308.7 249.3 305.3 248 302 247C298.7 246 295.3 245.5 292 245C288.7 244.5 284.7 244.3 282 244C279.3 243.7 278 243.2 276 243C274 242.8 271.7 242.8 270 243C268.3 243.2 268.2 243.5 266 244C263.8 244.5 259.8 245 257 246C254.2 247 251.7 248.7 249 250C246.3 251.3 243.7 253 241 254C238.3 255 235.5 256 233 256C230.5 256 228.2 255.8 226 254C223.8 252.2 222 249.8 220 245C218 240.2 215 228.3 214 225Z" fill="#383838"/><path d="M220 200C221 199 223.8 195.7 226 194C228.2 192.3 230.5 191.2 233 190C235.5 188.8 238.3 187.8 241 187C243.7 186.2 246.3 185.7 249 185C251.7 184.3 254.2 183.7 257 183C259.8 182.3 263.8 181.5 266 181C268.2 180.5 268.3 180.3 270 180C271.7 179.7 274 179.3 276 179C278 178.7 279.3 178.7 282 178C284.7 177.3 288.7 175.8 292 175C295.3 174.2 298.7 173.7 302 173C305.3 172.3 308.7 171.5 312 171C315.3 170.5 319 169.8 322 170C325 170.2 327.5 170.8 330 172C332.5 173.2 335 175.2 337 177C339 178.8 340.5 180.5 342 183C343.5 185.5 344.7 188.3 346 192C347.3 195.7 349.3 202.8 350 205L350 250C349.3 251.3 347.3 256 346 258C344.7 260 343.5 261.3 342 262C340.5 262.7 339 262.7 337 262C335 261.3 332.5 259.7 330 258C327.5 256.3 325 254 322 252C319 250 315.3 247.8 312 246C308.7 244.2 305.3 242.5 302 241C298.7 239.5 295.3 238.2 292 237C288.7 235.8 284.7 234.8 282 234C279.3 233.2 278 232.3 276 232C274 231.7 271.7 231.8 270 232C268.3 232.2 268.2 232.3 266 233C263.8 233.7 259.8 234.8 257 236C254.2 237.2 251.7 238.7 249 240C246.3 241.3 243.7 242.7 241 244C238.3 245.3 235.5 247.7 233 248C230.5 248.3 228.2 248.7 226 246C223.8 243.3 221 234.3 220 232Z" fill="#585858"/><path d="M226 202C227.2 201.2 230.5 198.5 233 197C235.5 195.5 238.3 194 241 193C243.7 192 246.3 191.7 249 191C251.7 190.3 254.2 189.7 257 189C259.8 188.3 263.8 187.5 266 187C268.2 186.5 268.3 186.3 270 186C271.7 185.7 274 185.3 276 185C278 184.7 279.3 184.7 282 184C284.7 183.3 288.7 181.8 292 181C295.3 180.2 298.7 179.7 302 179C305.3 178.3 308.7 177.5 312 177C315.3 176.5 319 175.8 322 176C325 176.2 327.5 176.7 330 178C332.5 179.3 335 181.7 337 184C339 186.3 340.5 188.5 342 192C343.5 195.5 345.3 202.8 346 205L346 250C345.3 251 343.5 255.2 342 256C340.5 256.8 339 255.8 337 255C335 254.2 332.5 252.7 330 251C327.5 249.3 325 247 322 245C319 243 315.3 240.8 312 239C308.7 237.2 305.3 235.7 302 234C298.7 232.3 295.3 230.3 292 229C288.7 227.7 284.7 226.8 282 226C279.3 225.2 278 224.3 276 224C274 223.7 271.7 223.8 270 224C268.3 224.2 268.2 224.8 266 225C263.8 225.2 259.8 225 257 225C254.2 225 251.7 225 249 225C246.3 225 243.7 225.2 241 225C238.3 224.8 235.5 224.5 233 224C230.5 223.5 227.2 222.3 226 222Z" fill="#888888"/><path d="M270 201C271 200 274 196.5 276 195C278 193.5 279.3 193.2 282 192C284.7 190.8 288.7 189.2 292 188C295.3 186.8 298.7 185.8 302 185C305.3 184.2 308.7 183.5 312 183C315.3 182.5 319 181.8 322 182C325 182.2 327.5 182.7 330 184C332.5 185.3 335 187.3 337 190C339 192.7 341.2 198.3 342 200L342 246C341.2 246.2 339 247.7 337 247C335 246.3 332.5 243.7 330 242C327.5 240.3 325 238.7 322 237C319 235.3 315.3 233.7 312 232C308.7 230.3 305.3 228.7 302 227C298.7 225.3 295.3 223.3 292 222C288.7 220.7 284.7 220.3 282 219C279.3 217.7 278 216 276 214C274 212 271 208.2 270 207Z" fill="#cccccc"/></g>
<line x1="206.8" y1="207.8" x2="363.4" y2="207.8" stroke="#333" stroke-width="0.85" stroke-dasharray="2.6 1.8"/>
<path d="M205.8 200.7 206.8 201.5 207.8 202.3 208.8 203.1 209.8 203.8 210.8 204.5 211.8 205.1 212.8 205.8 213.8 206.3 214.8 206.9 215.8 207.4 216.8 207.9 217.8 208.4 218.8 208.8 219.8 209.3 220.8 209.7 221.8 210 222.8 210.4 223.8 210.7 224.8 211 225.8 211.2 226.8 211.5 227.8 211.7 228.8 211.9 229.8 212 230.8 212.2 231.8 212.3 232.8 212.4 233.8 212.5 234.8 212.6 235.8 212.6 236.8 212.7 237.8 212.7 238.8 212.7 239.8 212.7 240.8 212.6 241.8 212.6 242.8 212.5 243.8 212.4 244.8 212.4 245.8 212.3 246.8 212.1 247.8 212 248.8 211.9 249.8 211.7 250.8 211.6 251.8 211.4 252.8 211.2 253.8 211 254.8 210.8 255.8 210.6 256.8 210.4 257.8 210.2 258.8 210 259.8 209.7 260.8 209.5 261.8 209.3 262.8 209 263.8 208.8 264.8 208.5 265.8 208.3 266.8 208 267.8 207.8 268.8 207.5 269.8 207.3 270.8 207 271.8 206.8 272.8 206.5 273.8 206.3 274.8 206 275.8 205.8 276.8 205.6 277.8 205.3 278.8 205.1 279.8 204.9 280.8 204.7 281.8 204.5 282.8 204.3 283.8 204.1 284.8 203.9 285.8 203.7 286.8 203.6 287.8 203.4 288.8 203.3 289.8 203.2 290.8 203 291.8 202.9 292.8 202.8 293.8 202.8 294.8 202.7 295.8 202.6 296.8 202.6 297.8 202.6 298.8 202.6 299.8 202.6 300.8 202.6 301.8 202.7 302.8 202.7 303.8 202.8 304.8 202.9 305.8 203.1 306.8 203.2 307.8 203.4 308.8 203.6 309.8 203.8 310.8 204 311.8 204.3 312.8 204.6 313.8 204.9 314.8 205.2 315.8 205.6 316.8 206 317.8 206.4 318.8 206.8 319.8 207.3 320.8 207.8 321.8 208.3 322.8 208.8 323.8 209.4 324.8 210 325.8 210.7 326.8 211.4 327.8 212.1 328.8 212.8 329.8 213.6 330.8 214.4 331.8 215.3 332.8 216.1 333.8 217.1 334.8 218 335.8 219 336.8 220 337.8 221.1 338.8 222.2 339.8 223.4 340.8 224.5 341.8 225.8 342.8 227 343.8 228.3 344.8 229.7 345.8 231.1 346.8 232.5 347.8 234 348.8 235.5 349.8 237.1 350.8 238.7 351.8 240.3 352.8 242 353.8 243.8 354.8 245.6 355.8 247.4 356.8 249.3 357.8 251.2 358.8 253.2 359.8 255.3 360.8 257.4 361.8 259.5 362.8 261.7 363.8 264" fill="none" stroke="#f51010" stroke-width="1.45"/>
</g>
<rect x="206.8" y="148.3" width="156.6" height="118.9" fill="none" stroke="#6b6b6b" stroke-width="1.1"/>
<line x1="206.8" y1="255.9" x2="208.8" y2="255.9" stroke="#6b6b6b" stroke-width="0.8"/>
<text x="204.5" y="258.6" font-size="7.5" text-anchor="end">−0.1</text>
<line x1="206.8" y1="207.8" x2="208.8" y2="207.8" stroke="#6b6b6b" stroke-width="0.8"/>
<text x="204.5" y="210.3" font-size="7.5" text-anchor="end">0.0</text>
<line x1="206.8" y1="159.6" x2="208.8" y2="159.6" stroke="#6b6b6b" stroke-width="0.8"/>
<text x="204.5" y="162.2" font-size="7.5" text-anchor="end">0.1</text>
<line x1="241.8" y1="267.2" x2="241.8" y2="265.2" stroke="#6b6b6b" stroke-width="0.8"/>
<text x="241.8" y="276.7" font-size="7.5" text-anchor="middle">0.2</text>
<line x1="285" y1="267.2" x2="285" y2="265.2" stroke="#6b6b6b" stroke-width="0.8"/>
<text x="285" y="276.7" font-size="7.5" text-anchor="middle">0.3</text>
<line x1="328.2" y1="267.2" x2="328.2" y2="265.2" stroke="#6b6b6b" stroke-width="0.8"/>
<text x="328.2" y="276.7" font-size="7.5" text-anchor="middle">0.4</text>
<text x="285.1" y="286.5" font-size="9.9" text-anchor="middle">Soil Moisture (m<tspan dy="-3" font-size="6.5">3</tspan><tspan dy="3">/m</tspan><tspan dy="-3" font-size="6.5">3</tspan><tspan dy="3">)</tspan></text>
<clipPath id="cp5"><rect x="383.3" y="148.3" width="156.1" height="118.9"/></clipPath><g clip-path="url(#cp5)">
<g filter="url(#sc5)"><rect x="383.3" y="148.3" width="156.1" height="118.9" fill="#000"/><path d="M395.5 178C395.9 177 396.9 173.7 398 172C399.1 170.3 400.3 169.3 402 168C403.7 166.7 405.8 165 408 164C410.2 163 412.7 162.3 415 162C417.3 161.7 419.5 161.5 422 162C424.5 162.5 427.3 163.7 430 165C432.7 166.3 435.3 168.3 438 170C440.7 171.7 443.3 173.3 446 175C448.7 176.7 451.3 178.5 454 180C456.7 181.5 459.5 182.8 462 184C464.5 185.2 466.8 186.2 469 187C471.2 187.8 473.2 188.5 475 189C476.8 189.5 478.2 189.8 480 190C481.8 190.2 484 190 486 190C488 190 489.7 190 492 190C494.3 190 496.7 190 500 190C503.3 190 507.8 189.7 512 190C516.2 190.3 520.7 191.3 525 192C529.3 192.7 535.8 193.7 538 194L538 246C535.8 246.7 529.3 249 525 250C520.7 251 516.2 251.2 512 252C507.8 252.8 503.3 254.2 500 255C496.7 255.8 494.3 256.5 492 257C489.7 257.5 488 257.8 486 258C484 258.2 481.8 258 480 258C478.2 258 476.8 258.2 475 258C473.2 257.8 471.2 257.5 469 257C466.8 256.5 464.5 255.8 462 255C459.5 254.2 456.7 253.2 454 252C451.3 250.8 448.7 249.3 446 248C443.3 246.7 440.7 245.3 438 244C435.3 242.7 432.7 241 430 240C427.3 239 424.5 238.3 422 238C419.5 237.7 417.3 237.7 415 238C412.7 238.3 410.2 239 408 240C405.8 241 403.7 241.7 402 244C400.3 246.3 399.1 252.3 398 254C396.9 255.7 395.9 254 395.5 254Z" fill="#383838"/><path d="M395.5 182C395.9 181 396.9 177.7 398 176C399.1 174.3 400.3 173.3 402 172C403.7 170.7 405.8 169 408 168C410.2 167 412.7 166.3 415 166C417.3 165.7 419.5 165.5 422 166C424.5 166.5 427.3 167.5 430 169C432.7 170.5 435.3 173 438 175C440.7 177 443.3 179.2 446 181C448.7 182.8 451.3 184.5 454 186C456.7 187.5 459.5 188.8 462 190C464.5 191.2 466.8 192.2 469 193C471.2 193.8 473.2 194.5 475 195C476.8 195.5 478.2 195.5 480 196C481.8 196.5 484 197.3 486 198C488 198.7 489.7 199.5 492 200C494.3 200.5 496.7 200.5 500 201C503.3 201.5 507.8 202 512 203C516.2 204 522.8 206.3 525 207L525 232C522.8 233 516.2 236 512 238C507.8 240 503.3 242.7 500 244C496.7 245.3 494.3 245.3 492 246C489.7 246.7 488 247.3 486 248C484 248.7 481.8 249.5 480 250C478.2 250.5 476.8 250.8 475 251C473.2 251.2 471.2 251.2 469 251C466.8 250.8 464.5 250.7 462 250C459.5 249.3 456.7 248.3 454 247C451.3 245.7 448.7 243.8 446 242C443.3 240.2 440.7 237.7 438 236C435.3 234.3 432.7 233 430 232C427.3 231 424.5 230.3 422 230C419.5 229.7 417.3 229.7 415 230C412.7 230.3 410.2 231 408 232C405.8 233 403.7 233 402 236C400.3 239 399.1 247.3 398 250C396.9 252.7 395.9 251.7 395.5 252Z" fill="#585858"/><path d="M395.5 186C395.9 185 396.9 181.7 398 180C399.1 178.3 400.3 177.3 402 176C403.7 174.7 405.8 173 408 172C410.2 171 412.7 170.3 415 170C417.3 169.7 419.5 169.5 422 170C424.5 170.5 427.3 171.3 430 173C432.7 174.7 435.3 177.8 438 180C440.7 182.2 443.3 184 446 186C448.7 188 451.3 190.3 454 192C456.7 193.7 459.5 194.8 462 196C464.5 197.2 466.8 198 469 199C471.2 200 473.2 201 475 202C476.8 203 478.2 203.8 480 205C481.8 206.2 484 207.5 486 209C488 210.5 491 213.2 492 214L492 232C491 233 488 236.3 486 238C484 239.7 481.8 240.8 480 242C478.2 243.2 476.8 244.3 475 245C473.2 245.7 471.2 246 469 246C466.8 246 464.5 245.7 462 245C459.5 244.3 456.7 243.3 454 242C451.3 240.7 448.7 238.8 446 237C443.3 235.2 440.7 232.7 438 231C435.3 229.3 432.7 228 430 227C427.3 226 424.5 225.5 422 225C419.5 224.5 417.3 224.2 415 224C412.7 223.8 410.2 223.3 408 224C405.8 224.7 403.7 224.7 402 228C400.3 231.3 399.1 241 398 244C396.9 247 395.9 245.7 395.5 246Z" fill="#888888"/><path d="M395.5 190C395.9 189.3 396.9 187.3 398 186C399.1 184.7 400.3 183.3 402 182C403.7 180.7 405.8 179 408 178C410.2 177 412.7 176.2 415 176C417.3 175.8 419.5 176.3 422 177C424.5 177.7 427.3 178.3 430 180C432.7 181.7 435.3 184.8 438 187C440.7 189.2 443.3 191 446 193C448.7 195 451.3 197.5 454 199C456.7 200.5 459.5 201 462 202C464.5 203 466.8 203.7 469 205C471.2 206.3 473.2 208.2 475 210C476.8 211.8 479.2 215 480 216L480 228C479.2 229 476.8 232.3 475 234C473.2 235.7 471.2 237.5 469 238C466.8 238.5 464.5 237.8 462 237C459.5 236.2 456.7 234.5 454 233C451.3 231.5 448.7 229.8 446 228C443.3 226.2 440.7 223.7 438 222C435.3 220.3 432.7 219 430 218C427.3 217 424.5 216.5 422 216C419.5 215.5 417.3 215.2 415 215C412.7 214.8 410.2 214.8 408 215C405.8 215.2 403.7 214.8 402 216C400.3 217.2 399.1 221 398 222C396.9 223 395.9 222 395.5 222Z" fill="#cccccc"/></g>
<line x1="383.3" y1="207.8" x2="539.4" y2="207.8" stroke="#333" stroke-width="0.85" stroke-dasharray="2.6 1.8"/>
<path d="M382.3 221.8 383.3 220.4 384.3 219 385.3 217.7 386.3 216.5 387.3 215.3 388.3 214.1 389.3 213 390.3 212 391.3 211 392.3 210.1 393.3 209.2 394.3 208.3 395.3 207.5 396.3 206.8 397.3 206.1 398.3 205.4 399.3 204.8 400.3 204.2 401.3 203.7 402.3 203.2 403.3 202.7 404.3 202.3 405.3 201.9 406.3 201.6 407.3 201.3 408.3 201 409.3 200.8 410.3 200.6 411.3 200.4 412.3 200.3 413.3 200.2 414.3 200.1 415.3 200.1 416.3 200.1 417.3 200.1 418.3 200.2 419.3 200.2 420.3 200.4 421.3 200.5 422.3 200.7 423.3 200.8 424.3 201.1 425.3 201.3 426.3 201.6 427.3 201.8 428.3 202.1 429.3 202.5 430.3 202.8 431.3 203.2 432.3 203.6 433.3 204 434.3 204.4 435.3 204.8 436.3 205.3 437.3 205.7 438.3 206.2 439.3 206.7 440.3 207.2 441.3 207.7 442.3 208.2 443.3 208.8 444.3 209.3 445.3 209.9 446.3 210.4 447.3 211 448.3 211.6 449.3 212.2 450.3 212.7 451.3 213.3 452.3 213.9 453.3 214.5 454.3 215.1 455.3 215.7 456.3 216.3 457.3 216.9 458.3 217.5 459.3 218.1 460.3 218.7 461.3 219.3 462.3 219.9 463.3 220.5 464.3 221.1 465.3 221.6 466.3 222.2 467.3 222.8 468.3 223.3 469.3 223.9 470.3 224.4 471.3 224.9 472.3 225.4 473.3 225.9 474.3 226.4 475.3 226.9 476.3 227.3 477.3 227.8 478.3 228.2 479.3 228.6 480.3 229 481.3 229.4 482.3 229.7 483.3 230 484.3 230.4 485.3 230.6 486.3 230.9 487.3 231.2 488.3 231.4 489.3 231.6 490.3 231.8 491.3 231.9 492.3 232 493.3 232.1 494.3 232.2 495.3 232.2 496.3 232.2 497.3 232.2 498.3 232.2 499.3 232.1 500.3 232 501.3 231.8 502.3 231.6 503.3 231.4 504.3 231.2 505.3 230.9 506.3 230.6 507.3 230.2 508.3 229.8 509.3 229.4 510.3 228.9 511.3 228.4 512.3 227.8 513.3 227.2 514.3 226.5 515.3 225.8 516.3 225.1 517.3 224.3 518.3 223.5 519.3 222.6 520.3 221.7 521.3 220.7 522.3 219.7 523.3 218.7 524.3 217.5 525.3 216.4 526.3 215.2 527.3 213.9 528.3 212.6 529.3 211.2 530.3 209.7 531.3 208.3 532.3 206.7 533.3 205.1 534.3 203.4 535.3 201.7 536.3 199.9 537.3 198.1 538.3 196.2 539.3 194.2 540.3 192.2" fill="none" stroke="#f51010" stroke-width="1.45"/>
</g>
<rect x="383.3" y="148.3" width="156.1" height="118.9" fill="none" stroke="#6b6b6b" stroke-width="1.1"/>
<line x1="383.3" y1="255.9" x2="385.3" y2="255.9" stroke="#6b6b6b" stroke-width="0.8"/>
<text x="381" y="258.6" font-size="7.5" text-anchor="end">−0.1</text>
<line x1="383.3" y1="207.8" x2="385.3" y2="207.8" stroke="#6b6b6b" stroke-width="0.8"/>
<text x="381" y="210.3" font-size="7.5" text-anchor="end">0.0</text>
<line x1="383.3" y1="159.6" x2="385.3" y2="159.6" stroke="#6b6b6b" stroke-width="0.8"/>
<text x="381" y="162.2" font-size="7.5" text-anchor="end">0.1</text>
<line x1="394.9" y1="267.2" x2="394.9" y2="265.2" stroke="#6b6b6b" stroke-width="0.8"/>
<text x="394.9" y="276.7" font-size="7.5" text-anchor="middle">0</text>
<line x1="419" y1="267.2" x2="419" y2="265.2" stroke="#6b6b6b" stroke-width="0.8"/>
<text x="419" y="276.7" font-size="7.5" text-anchor="middle">20</text>
<line x1="443.1" y1="267.2" x2="443.1" y2="265.2" stroke="#6b6b6b" stroke-width="0.8"/>
<text x="443.1" y="276.7" font-size="7.5" text-anchor="middle">40</text>
<line x1="467.2" y1="267.2" x2="467.2" y2="265.2" stroke="#6b6b6b" stroke-width="0.8"/>
<text x="467.2" y="276.7" font-size="7.5" text-anchor="middle">60</text>
<line x1="491.3" y1="267.2" x2="491.3" y2="265.2" stroke="#6b6b6b" stroke-width="0.8"/>
<text x="491.3" y="276.7" font-size="7.5" text-anchor="middle">80</text>
<line x1="515.4" y1="267.2" x2="515.4" y2="265.2" stroke="#6b6b6b" stroke-width="0.8"/>
<text x="515.4" y="276.7" font-size="7.5" text-anchor="middle">100</text>
<line x1="539.4" y1="267.2" x2="539.4" y2="265.2" stroke="#6b6b6b" stroke-width="0.8"/>
<text x="539.4" y="276.7" font-size="7.5" text-anchor="middle">120</text>
<text x="461.4" y="286.5" font-size="9.9" text-anchor="middle">Age (year)</text>
<clipPath id="cp6"><rect x="31.2" y="290.6" width="156" height="119.5"/></clipPath><g clip-path="url(#cp6)">
<g filter="url(#sc6)"><rect x="31.2" y="290.6" width="156" height="119.5" fill="#000"/><path d="M33.5 320C33.9 319.5 24.9 317.5 36 317C47.1 316.5 82.7 317 100 317C117.3 317 131.7 317 140 317C148.3 317 145.8 317.2 150 317C154.2 316.8 160.5 316.7 165 316C169.5 315.3 173.8 313.7 177 313C180.2 312.3 183.2 312.2 184.5 312L184.5 400C183.2 400 180.2 400.5 177 400C173.8 399.5 169.5 398 165 397C160.5 396 154.2 394.7 150 394C145.8 393.3 148.3 393.3 140 393C131.7 392.7 117.3 392.2 100 392C82.7 391.8 47.1 393 36 392C24.9 391 33.9 387 33.5 386Z" fill="#383838"/><path d="M33.5 325C33.9 324.7 24.9 323.3 36 323C47.1 322.7 82.7 323 100 323C117.3 323 131.7 323 140 323C148.3 323 145.8 323.2 150 323C154.2 322.8 160.5 322.5 165 322C169.5 321.5 173.8 320.3 177 320C180.2 319.7 183.2 320 184.5 320L184.5 392C183.2 392 180.2 392.7 177 392C173.8 391.3 169.5 389.2 165 388C160.5 386.8 154.2 385.8 150 385C145.8 384.2 148.3 383.5 140 383C131.7 382.5 117.3 382.2 100 382C82.7 381.8 47.1 382.7 36 382C24.9 381.3 33.9 378.7 33.5 378Z" fill="#585858"/><path d="M33.5 329C33.9 328.8 24.9 328.2 36 328C47.1 327.8 82.7 328 100 328C117.3 328 131.7 328 140 328C148.3 328 145.8 328 150 328C154.2 328 160.5 328.2 165 328C169.5 327.8 173.8 327.2 177 327C180.2 326.8 183.2 327 184.5 327L184.5 383C183.2 383 180.2 383.7 177 383C173.8 382.3 169.5 380.3 165 379C160.5 377.7 154.2 376 150 375C145.8 374 148.3 373.5 140 373C131.7 372.5 117.3 372.2 100 372C82.7 371.8 47.1 372.3 36 372C24.9 371.7 33.9 370.3 33.5 370Z" fill="#888888"/><path d="M33.5 333C33.9 332.8 24.9 332.2 36 332C47.1 331.8 82.7 332 100 332C117.3 332 131.7 332 140 332C148.3 332 145.8 332 150 332C154.2 332 160.5 332 165 332C169.5 332 173.8 332 177 332C180.2 332 183.2 332 184.5 332L184.5 374C183.2 374 180.2 374.5 177 374C173.8 373.5 169.5 372 165 371C160.5 370 154.2 368.7 150 368C145.8 367.3 148.3 367.3 140 367C131.7 366.7 117.3 366.2 100 366C82.7 365.8 47.1 366.3 36 366C24.9 365.7 33.9 364.3 33.5 364Z" fill="#cccccc"/></g>
<path d="M31.2 350.3C37.7 350.2 56.9 350.1 70 350C83.1 349.9 98.3 349.9 110 349.9C121.7 349.9 131.7 349.9 140 350.1C148.3 350.3 154.2 350.5 160 350.9C165.8 351.3 170.5 351.8 175 352.5C179.5 353.2 185.2 354.5 187.2 354.9" fill="none" stroke="#f51010" stroke-width="1.45"/>
<line x1="31.2" y1="350.4" x2="187.2" y2="350.4" stroke="#333" stroke-width="0.85" stroke-dasharray="2.6 1.8"/>
</g>
<rect x="31.2" y="290.6" width="156" height="119.5" fill="none" stroke="#6b6b6b" stroke-width="1.1"/>
<line x1="31.2" y1="398.6" x2="33.2" y2="398.6" stroke="#6b6b6b" stroke-width="0.8"/>
<text x="28.9" y="401.2" font-size="7.5" text-anchor="end">−0.1</text>
<line x1="31.2" y1="350.4" x2="33.2" y2="350.4" stroke="#6b6b6b" stroke-width="0.8"/>
<text x="28.9" y="353" font-size="7.5" text-anchor="end">0.0</text>
<line x1="31.2" y1="302.2" x2="33.2" y2="302.2" stroke="#6b6b6b" stroke-width="0.8"/>
<text x="28.9" y="304.8" font-size="7.5" text-anchor="end">0.1</text>
<line x1="31.2" y1="410.1" x2="31.2" y2="408.1" stroke="#6b6b6b" stroke-width="0.8"/>
<text x="31.2" y="419.6" font-size="7.5" text-anchor="middle">0</text>
<line x1="62.4" y1="410.1" x2="62.4" y2="408.1" stroke="#6b6b6b" stroke-width="0.8"/>
<text x="62.4" y="419.6" font-size="7.5" text-anchor="middle">20</text>
<line x1="93.6" y1="410.1" x2="93.6" y2="408.1" stroke="#6b6b6b" stroke-width="0.8"/>
<text x="93.6" y="419.6" font-size="7.5" text-anchor="middle">40</text>
<line x1="124.8" y1="410.1" x2="124.8" y2="408.1" stroke="#6b6b6b" stroke-width="0.8"/>
<text x="124.8" y="419.6" font-size="7.5" text-anchor="middle">60</text>
<line x1="156" y1="410.1" x2="156" y2="408.1" stroke="#6b6b6b" stroke-width="0.8"/>
<text x="156" y="419.6" font-size="7.5" text-anchor="middle">80</text>
<line x1="187.2" y1="410.1" x2="187.2" y2="408.1" stroke="#6b6b6b" stroke-width="0.8"/>
<text x="187.2" y="419.6" font-size="7.5" text-anchor="middle">100</text>
<text x="109.2" y="428" font-size="9.9" text-anchor="middle">Forest Coverage (%)</text>
<clipPath id="cp7"><rect x="206.8" y="290.6" width="156.6" height="119.5"/></clipPath><g clip-path="url(#cp7)">
<g filter="url(#sc7)"><rect x="206.8" y="290.6" width="156.6" height="119.5" fill="#000"/><path d="M208.5 316C210.4 316 215.6 315.8 220 316C224.4 316.2 230 316.7 235 317C240 317.3 245.5 317.7 250 318C254.5 318.3 258 318.7 262 319C266 319.3 270 319.7 274 320C278 320.3 282.7 320.8 286 321C289.3 321.2 291.7 320.8 294 321C296.3 321.2 294 321.8 300 322C306 322.2 319.7 322.2 330 322C340.3 321.8 356.7 321.2 362 321L362 393C356.7 392.8 340.3 392.2 330 392C319.7 391.8 306 392 300 392C294 392 296.3 392 294 392C291.7 392 289.3 392 286 392C282.7 392 278 392 274 392C270 392 266 392 262 392C258 392 254.5 392 250 392C245.5 392 240 392 235 392C230 392 224.4 392 220 392C215.6 392 210.4 392 208.5 392Z" fill="#383838"/><path d="M208.5 320C210.4 320 215.6 319.8 220 320C224.4 320.2 230 320.7 235 321C240 321.3 245.5 321.5 250 322C254.5 322.5 258 323.5 262 324C266 324.5 270 324.7 274 325C278 325.3 282.7 325.8 286 326C289.3 326.2 291.7 325.8 294 326C296.3 326.2 294 326.8 300 327C306 327.2 319.7 327.2 330 327C340.3 326.8 356.7 326.2 362 326L362 384C356.7 383.8 340.3 383.2 330 383C319.7 382.8 306 382.8 300 383C294 383.2 296.3 383.8 294 384C291.7 384.2 289.3 383.8 286 384C282.7 384.2 278 384.7 274 385C270 385.3 266 385.8 262 386C258 386.2 254.5 386 250 386C245.5 386 240 386 235 386C230 386 224.4 386 220 386C215.6 386 210.4 386 208.5 386Z" fill="#585858"/><path d="M208.5 324C210.4 324 215.6 323.7 220 324C224.4 324.3 230 325.3 235 326C240 326.7 245.5 327.3 250 328C254.5 328.7 258 329.3 262 330C266 330.7 270 331.5 274 332C278 332.5 282.7 332.7 286 333C289.3 333.3 291.7 333.7 294 334C296.3 334.3 294 334.8 300 335C306 335.2 319.7 335.2 330 335C340.3 334.8 356.7 334.2 362 334L362 370C356.7 369.8 340.3 369 330 369C319.7 369 306 369.7 300 370C294 370.3 296.3 370.7 294 371C291.7 371.3 289.3 371.5 286 372C282.7 372.5 278 373.3 274 374C270 374.7 266 375.5 262 376C258 376.5 254.5 376.7 250 377C245.5 377.3 240 377.8 235 378C230 378.2 224.4 378 220 378C215.6 378 210.4 378 208.5 378Z" fill="#888888"/><path d="M208.5 328C210.4 328.2 215.6 328.5 220 329C224.4 329.5 230 330.2 235 331C240 331.8 245.5 333 250 334C254.5 335 258 336 262 337C266 338 270 339 274 340C278 341 282.7 342 286 343C289.3 344 292.7 345.5 294 346L294 355C292.7 355.5 289.3 356.8 286 358C282.7 359.2 278 360.8 274 362C270 363.2 266 364 262 365C258 366 254.5 367.2 250 368C245.5 368.8 240 369.5 235 370C230 370.5 224.4 370.7 220 371C215.6 371.3 210.4 371.8 208.5 372Z" fill="#cccccc"/></g>
<path d="M206.8 350.5C214 350.5 237.1 350.6 250 350.6C262.9 350.7 273.2 350.7 284 350.8C294.8 350.9 306.5 350.9 315 351C323.5 351.1 329.2 351.3 335 351.6C340.8 351.9 345.3 352.4 350 353C354.7 353.6 361.2 354.9 363.4 355.3" fill="none" stroke="#f51010" stroke-width="1.45"/>
<line x1="206.8" y1="350.4" x2="363.4" y2="350.4" stroke="#333" stroke-width="0.85" stroke-dasharray="2.6 1.8"/>
</g>
<rect x="206.8" y="290.6" width="156.6" height="119.5" fill="none" stroke="#6b6b6b" stroke-width="1.1"/>
<line x1="206.8" y1="398.6" x2="208.8" y2="398.6" stroke="#6b6b6b" stroke-width="0.8"/>
<text x="204.5" y="401.2" font-size="7.5" text-anchor="end">−0.1</text>
<line x1="206.8" y1="350.4" x2="208.8" y2="350.4" stroke="#6b6b6b" stroke-width="0.8"/>
<text x="204.5" y="353" font-size="7.5" text-anchor="end">0.0</text>
<line x1="206.8" y1="302.2" x2="208.8" y2="302.2" stroke="#6b6b6b" stroke-width="0.8"/>
<text x="204.5" y="304.8" font-size="7.5" text-anchor="end">0.1</text>
<line x1="207.1" y1="410.1" x2="207.1" y2="408.1" stroke="#6b6b6b" stroke-width="0.8"/>
<text x="207.1" y="419.6" font-size="7.5" text-anchor="middle">1</text>
<line x1="259.8" y1="410.1" x2="259.8" y2="408.1" stroke="#6b6b6b" stroke-width="0.8"/>
<text x="259.8" y="419.6" font-size="7.5" text-anchor="middle">10</text>
<line x1="296.6" y1="410.1" x2="296.6" y2="408.1" stroke="#6b6b6b" stroke-width="0.8"/>
<text x="296.6" y="419.6" font-size="7.5" text-anchor="middle">50</text>
<line x1="328.4" y1="410.1" x2="328.4" y2="408.1" stroke="#6b6b6b" stroke-width="0.8"/>
<text x="328.4" y="419.6" font-size="7.5" text-anchor="middle">200</text>
<line x1="362.8" y1="410.1" x2="362.8" y2="408.1" stroke="#6b6b6b" stroke-width="0.8"/>
<text x="362.8" y="419.6" font-size="7.5" text-anchor="middle">900</text>
<text x="285.1" y="428" font-size="9.9" text-anchor="middle">Nighttime-light</text>
<text transform="translate(13.6 65.5) rotate(-90)" font-size="10.2" text-anchor="middle">SHAP Value</text>
<text transform="translate(13.6 207.8) rotate(-90)" font-size="10.2" text-anchor="middle">SHAP Value</text>
<text transform="translate(13.6 350.4) rotate(-90)" font-size="10.2" text-anchor="middle">SHAP Value</text>
<rect x="416.7" y="308.4" width="84.3" height="89" fill="none" stroke="#d8d8d8" stroke-width="0.8"/>
<circle cx="457.8" cy="320.9" r="3" fill="#1aa6e8"/>
<text x="459.2" y="339.8" font-size="13.8" text-anchor="middle">Sample Point</text>
<line x1="441.2" y1="369.8" x2="473.4" y2="369.8" stroke="#f23a3a" stroke-width="1.7"/>
<text x="459.2" y="392.8" font-size="13.8" text-anchor="middle">Fitting Curve</text>
</svg></body></html>
